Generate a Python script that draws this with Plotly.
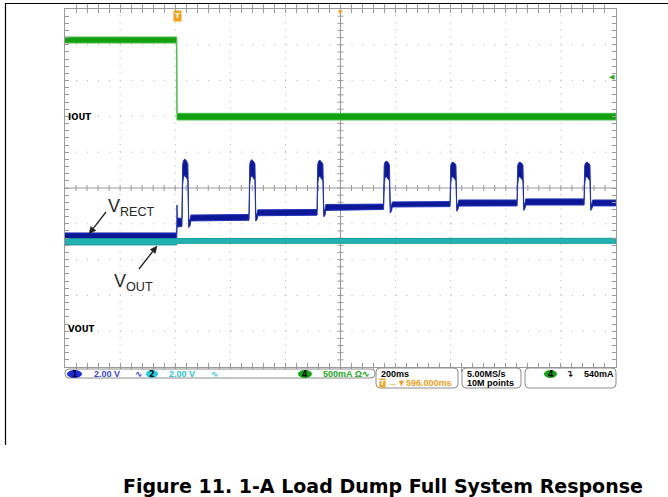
import plotly.graph_objects as go

# ---------------- data ----------------
# horizontal: 200 ms/div, trigger at t=0, screen centre at +596 ms
time_range = [-404, 1596]
# CH1/CH2: 2.00 V/div, ground 4 div below centre
volt_range = [-2, 18]
# CH4: 500 mA/div, ground 2 div above centre
amp_range = [-3.5, 1.5]

# CH1  VRECT  (noise envelope, V)
vrect_t = [-404, 1.5, 2.5, 3.5, 20.5,
           23.0, 26.0, 31.0, 36.5, 42.0, 45.0, 49.0, 53.0, 264.0,
           266.5, 269.5, 274.5, 280.0, 285.5, 288.5, 292.5, 296.0, 511.0,
           513.2, 516.2, 521.2, 526.7, 532.2, 535.2, 539.2, 542.7, 752.4,
           754.6, 757.6, 762.6, 768.1, 773.6, 776.6, 780.6, 784.1, 993.8,
           996.0, 999.0, 1004.0, 1009.5, 1015.0, 1018.0, 1022.0, 1025.5, 1237.0,
           1239.2, 1242.2, 1247.2, 1252.7, 1258.2, 1261.2, 1265.2, 1268.7, 1480.2,
           1482.4, 1485.4, 1490.4, 1495.9, 1501.4, 1504.4, 1508.4, 1511.9, 1596]
vrect_lo = [5.15, 5.15, 5.90, 5.82, 5.85,
            8.20, 8.60, 8.70, 8.60, 8.45, 5.80, 5.85, 6.16, 6.20,
            8.20, 8.60, 8.68, 8.58, 8.42, 6.15, 6.22, 6.45, 6.48,
            8.20, 8.58, 8.65, 8.55, 8.40, 6.40, 6.45, 6.75, 6.80,
            8.20, 8.58, 8.63, 8.55, 8.40, 6.60, 6.70, 6.94, 6.96,
            8.20, 8.58, 8.63, 8.55, 8.40, 6.70, 6.80, 6.99, 7.00,
            8.20, 8.58, 8.63, 8.55, 8.40, 6.75, 6.85, 7.05, 7.05,
            8.20, 8.58, 8.63, 8.55, 8.40, 6.75, 6.85, 7.00, 7.00]
vrect_hi = [5.49, 5.49, 7.05, 6.33, 6.30,
            9.30, 9.55, 9.62, 9.52, 9.35, 6.20, 6.22, 6.49, 6.52,
            9.30, 9.52, 9.58, 9.50, 9.34, 6.50, 6.55, 6.78, 6.80,
            9.30, 9.50, 9.55, 9.47, 9.32, 6.75, 6.80, 7.08, 7.10,
            9.28, 9.45, 9.50, 9.45, 9.30, 6.95, 7.00, 7.22, 7.24,
            9.25, 9.40, 9.45, 9.40, 9.28, 7.00, 7.10, 7.33, 7.33,
            9.25, 9.40, 9.45, 9.40, 9.28, 7.05, 7.15, 7.39, 7.39,
            9.25, 9.40, 9.45, 9.40, 9.28, 7.05, 7.15, 7.33, 7.33]

# CH2  VOUT (V)
vout_t = [-404, 1.5, 3.0, 1596]
vout_lo = [4.82, 4.82, 4.91, 4.91]
vout_hi = [5.17, 5.17, 5.19, 5.19]

# CH4  IOUT (A)
iout_t = [-404, 1.5, 2.5, 1596]
iout_lo = [1.025, 1.025, -0.050, -0.050]
iout_hi = [1.109, 1.109, 0.043, 0.043]

title_text = "Figure 11. 1-A Load Dump Full System Response"

# ---------------- geometry helpers (pixel -> paper) ----------------
PL, PR, PT, PB = 65, 616, 9, 367
W, H = 668, 497


def px(x):
    return (x - PL) / (PR - PL)


def py(y):
    return (PB - y) / (PB - PT)


def band(t, lo, hi):
    return list(t) + list(t)[::-1], list(hi) + list(lo)[::-1]


fig = go.Figure()

bx, by = band(vrect_t, vrect_lo, vrect_hi)
fig.add_trace(go.Scatter(x=bx, y=by, fill="toself", fillcolor="#0c1896",
                         line=dict(color="#2233bb", width=1), mode="lines",
                         showlegend=False, hoverinfo="skip"))
bx, by = band(vout_t, vout_lo, vout_hi)
fig.add_trace(go.Scatter(x=bx, y=by, fill="toself", fillcolor="#22b2b2",
                         line=dict(color="#189a9a", width=1), mode="lines",
                         showlegend=False, hoverinfo="skip"))
bx, by = band(iout_t, iout_lo, iout_hi)
fig.add_trace(go.Scatter(x=bx, y=by, fill="toself", fillcolor="#12a012",
                         line=dict(color="#45bf45", width=1), mode="lines",
                         yaxis="y2", showlegend=False, hoverinfo="skip"))

GRID = "#b0b0b0"
FRAME = "#9a9a9a"
shapes = []
# dotted grid
xdiv = (time_range[1] - time_range[0]) / 10
ydiv = (volt_range[1] - volt_range[0]) / 10
for k in range(1, 10):
    if k == 5:
        continue
    shapes.append(dict(type="line", xref="x", yref="paper",
                       x0=time_range[0] + k * xdiv, x1=time_range[0] + k * xdiv,
                       y0=0, y1=1, layer="below",
                       line=dict(color=GRID, width=1, dash="1px,6.16px")))
    shapes.append(dict(type="line", xref="paper", yref="y",
                       x0=0, x1=1, y0=volt_range[0] + k * ydiv, y1=volt_range[0] + k * ydiv,
                       layer="below",
                       line=dict(color=GRID, width=1, dash="1px,10.02px")))
xc = time_range[0] + 5 * xdiv
yc = volt_range[0] + 5 * ydiv
shapes.append(dict(type="line", xref="x", yref="paper", x0=xc, x1=xc, y0=0, y1=1,
                   layer="below", line=dict(color=FRAME, width=1)))
shapes.append(dict(type="line", xref="paper", yref="y", x0=0, x1=1, y0=yc, y1=yc,
                   layer="below", line=dict(color=FRAME, width=1)))
for k in range(1, 50):
    shapes.append(dict(type="line", xref="x", xsizemode="pixel", xanchor=xc,
                       x0=-3, x1=3, yref="y", y0=volt_range[0] + k * ydiv / 5,
                       y1=volt_range[0] + k * ydiv / 5, layer="below",
                       line=dict(color=FRAME, width=1)))
    shapes.append(dict(type="line", yref="y", ysizemode="pixel", yanchor=yc,
                       y0=-3, y1=3, xref="x", x0=time_range[0] + k * xdiv / 5,
                       x1=time_range[0] + k * xdiv / 5, layer="below",
                       line=dict(color=FRAME, width=1)))

# outer black frame of the figure
shapes.append(dict(type="line", xref="paper", yref="paper", x0=px(5), x1=px(668),
                   y0=py(3.5), y1=py(3.5), line=dict(color="black", width=1.2)))
shapes.append(dict(type="line", xref="paper", yref="paper", x0=px(5.5), x1=px(5.5),
                   y0=py(3), y1=py(445), line=dict(color="black", width=1.2)))


def rrect(x0, y0, x1, y1, r=4):
    X0, X1, Y0, Y1 = px(x0), px(x1), py(y0), py(y1)
    rx = r / (PR - PL)
    ry = r / (PB - PT)
    return (f"M {X0+rx},{Y0} L {X1-rx},{Y0} Q {X1},{Y0} {X1},{Y0-ry} "
            f"L {X1},{Y1+ry} Q {X1},{Y1} {X1-rx},{Y1} L {X0+rx},{Y1} "
            f"Q {X0},{Y1} {X0},{Y1+ry} L {X0},{Y0-ry} Q {X0},{Y0} {X0+rx},{Y0} Z")


for (a, b, c, d) in [(65, 369, 375, 378), (376, 368, 458, 388),
                     (462, 368, 521, 388), (525, 368, 616, 388)]:
    shapes.append(dict(type="path", xref="paper", yref="paper", path=rrect(a, b, c, d),
                       line=dict(color="#8c8c8c", width=1), fillcolor="white"))


def ell(x0, x1, y0, y1, color):
    return dict(type="circle", xref="paper", yref="paper", x0=px(x0), x1=px(x1),
                y0=py(y1), y1=py(y0), fillcolor=color, line=dict(color=color, width=0))


shapes.append(ell(67, 82, 370, 378, "#1a2ae0"))
shapes.append(ell(146, 158, 370, 378, "#22d0dd"))
shapes.append(ell(298, 312, 370, 378, "#11a611"))
shapes.append(ell(544, 557, 370, 378, "#11a611"))


def arrow(x_tail, y_tail, x_tip, y_tip, head=7, half=3.2, color="#222"):
    dx, dy = x_tip - x_tail, y_tip - y_tail
    n = (dx * dx + dy * dy) ** 0.5
    ux, uy = dx / n, dy / n
    bx_, by_ = x_tip - ux * head, y_tip - uy * head
    shapes.append(dict(type="line", xref="paper", yref="paper",
                       x0=px(x_tail), y0=py(y_tail), x1=px(bx_), y1=py(by_),
                       line=dict(color=color, width=1.3)))
    p1 = (bx_ - uy * half, by_ + ux * half)
    p2 = (bx_ + uy * half, by_ - ux * half)
    shapes.append(dict(type="path", xref="paper", yref="paper",
                       path=f"M {px(x_tip)},{py(y_tip)} L {px(p1[0])},{py(p1[1])} "
                            f"L {px(p2[0])},{py(p2[1])} Z",
                       fillcolor=color, line=dict(color=color, width=0.5)))


arrow(106, 212, 89, 234)
arrow(139, 269, 157, 246)

ann = []


def txt(x, y, s, size=9, color="black", family="Liberation Sans", anchor="left", bold=True, **kw):
    ann.append(dict(x=px(x), y=py(y), xref="paper", yref="paper", text=f"<b>{s}</b>" if bold else s,
                    showarrow=False, xanchor=anchor, yanchor="middle",
                    font=dict(size=size, color=color, family=family), **kw))


# signal labels
txt(106, 207, "V<sub>RECT</sub>", size=18, color="#262626", bold=False)
txt(112, 282, "V<sub>OUT</sub>", size=18, color="#262626", bold=False)
txt(66, 116.5, "IOUT", size=8.5, family="DejaVu Sans")
txt(66, 329, "VOUT", size=8.5, family="DejaVu Sans")
# markers
txt(177, 16, "T", size=7, color="white", anchor="center", family="DejaVu Sans",
    bgcolor="#f3a21c", borderpad=1)
txt(340.5, 11, "▼", size=6, color="#f3a21c", anchor="center", bold=False, family="DejaVu Sans")
txt(612, 77, "◀", size=7, color="#22aa22", anchor="center", bold=False, family="DejaVu Sans")

# status bar
txt(74.5, 374, "1", size=8, anchor="center", family="DejaVu Sans")
txt(92, 374, "2.00 V", color="#3a46e0")
txt(133, 374, "∿", color="#3a46e0", size=9, family="DejaVu Sans")
txt(152, 374, "2", size=8, anchor="center", family="DejaVu Sans")
txt(167, 374, "2.00 V", color="#2cc6d6")
txt(209, 374, "∿", color="#2cc6d6", size=9, family="DejaVu Sans")
txt(305, 374, "4", size=8, anchor="center", family="DejaVu Sans")
txt(321, 374, "500mA Ω∿", color="#22a822")
txt(379, 374, "200ms")
txt(382, 383, "T", size=7, color="white", anchor="center", family="DejaVu Sans",
    bgcolor="#f3a21c", borderpad=0)
txt(386, 383, "→▼596.000ms", color="#f0a020")
txt(465, 374, "5.00MS/s")
txt(465, 383, "10M points")
txt(550.5, 374, "4", size=8, anchor="center", family="DejaVu Sans")
txt(564, 374, "↴", size=9, family="DejaVu Sans")
txt(582, 374, "540mA")

# caption
txt(382.5, 486, title_text, size=19, family="DejaVu Sans", anchor="center", color="black")

fig.update_layout(
    width=W, height=H, autosize=False,
    margin=dict(l=PL, r=W - PR, t=PT, b=H - PB, pad=0),
    paper_bgcolor="white", plot_bgcolor="white",
    font=dict(family="Liberation Sans"),
    showlegend=False,
    shapes=shapes, annotations=ann,
    xaxis=dict(range=time_range, showgrid=False, zeroline=False, showticklabels=False,
               tick0=time_range[0], dtick=xdiv / 5, ticks="inside", ticklen=4,
               tickcolor=FRAME, mirror="allticks", showline=True, linecolor=FRAME,
               linewidth=1, fixedrange=True),
    yaxis=dict(range=volt_range, showgrid=False, zeroline=False, showticklabels=False,
               tick0=volt_range[0], dtick=ydiv / 5, ticks="inside", ticklen=4,
               tickcolor=FRAME, mirror="allticks", showline=True, linecolor=FRAME,
               linewidth=1, fixedrange=True),
    yaxis2=dict(range=amp_range, overlaying="y", visible=False, fixedrange=True),
)

fig.write_html("out.html", config={"displayModeBar": False},
               post_script="document.body.style.margin='0px';document.body.style.overflow='hidden';")
